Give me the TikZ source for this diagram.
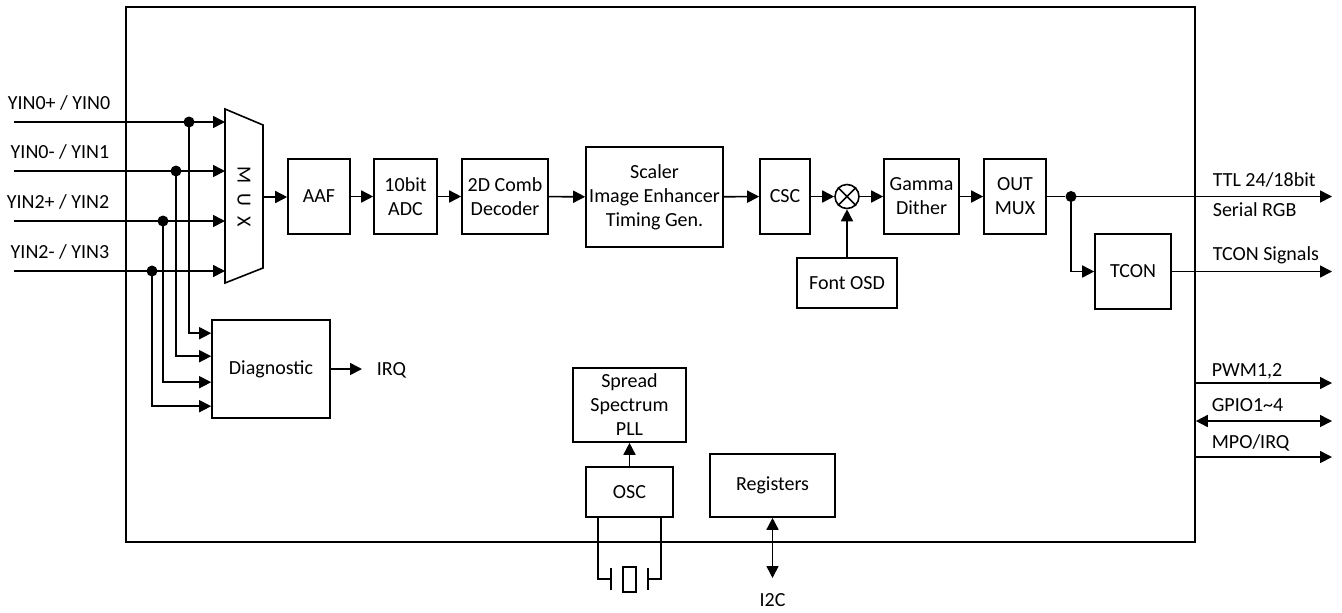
\documentclass[tikz,border=0pt]{standalone}
\usepackage{fontspec}
\setmainfont{Carlito}
\usetikzlibrary{arrows.meta,positioning}

\begin{document}
\begin{tikzpicture}[
    x=0.5pt, y=-0.5pt,
    line width=0.8pt,
    >={Triangle[length=6pt,width=6pt]},
    bloc/.style = {draw, align=center, inner sep=1pt},
    sig/.style = {inner sep=0pt},
    dot/.style = {circle, fill, inner sep=0pt, minimum size=5.5pt}
]
    \useasboundingbox (0,0) rectangle (1342,612);

    % --- Boitier ---
    \node[draw, minimum width=534.5pt, minimum height=267.5pt] (chip) at (660.5,274.5) {};

    % --- Entrees et MUX ---
    \coordinate (m1) at (225,109);
    \coordinate (m2) at (263,125);
    \coordinate (m3) at (263,268);
    \coordinate (m4) at (225,283);
    \draw (m1) -- (m2) -- (m3) -- (m4) -- cycle;
    \node[sig, rotate=-90] (mux) at (244,197) {M\hspace{5pt}U\hspace{5pt}X};
    \coordinate (muxout) at (263,197);

    \coordinate (in0) at (14,122);
    \coordinate (in1) at (14,171);
    \coordinate (in2) at (14,221);
    \coordinate (in3) at (14,271);
    \node[sig] (l0) at (59,103) {YIN0+ / YIN0};
    \node[sig] (l1) at (60,152) {YIN0- / YIN1};
    \node[sig] (l2) at (58,202) {YIN2+ / YIN2};
    \node[sig] (l3) at (60,252) {YIN2- / YIN3};
    \draw[->] (in0) -- (in0 -| m1);
    \draw[->] (in1) -- (in1 -| m1);
    \draw[->] (in2) -- (in2 -| m1);
    \draw[->] (in3) -- (in3 -| m1);
    \node[dot] (d0) at (189,122) {};
    \node[dot] (d1) at (176,171) {};
    \node[dot] (d2) at (163,221) {};
    \node[dot] (d3) at (152,271) {};

    % --- Diagnostic ---
    \node[bloc, minimum width=59pt, minimum height=49pt] (diag) at (271,369) {Diagnostic};
    \draw[->] (d0.center) |- ([yshift=-7pt]diag.north west);
    \draw[->] (d1.center) |- ([yshift=-18.5pt]diag.north west);
    \draw[->] (d2.center) |- ([yshift=-31.5pt]diag.north west);
    \draw[->] (d3.center) |- ([yshift=-43.5pt]diag.north west);
    \node[sig, anchor=west] (irq) at (376,370) {IRQ};
    \coordinate (irqend) at (362,369);
    \draw[->] (diag.east |- irqend) -- (irqend);

    % --- Chaine video ---
    \node[bloc, minimum width=31pt, minimum height=37.5pt] (aaf) at (319,196.5) {AAF};
    \node[bloc, minimum width=31.5pt, minimum height=37.5pt] (adc) at (405.5,196.5) {10bit\\ADC};
    \node[bloc, minimum width=43pt, minimum height=37.5pt] (dec) at (505,196.5) {2D Comb\\Decoder};
    \node[bloc, minimum width=68.5pt, minimum height=50pt] (scal) at (654.5,197) {Scaler\\Image Enhancer\\Timing Gen.};
    \node[bloc, minimum width=25pt, minimum height=37.5pt] (csc) at (785,196.5) {CSC};
    \node[draw, circle, inner sep=0pt, minimum size=12pt] (mix) at (847,196.5) {};
    \draw (mix.north west) -- (mix.south east) (mix.north east) -- (mix.south west);
    \node[bloc, minimum width=37.5pt, minimum height=37.5pt] (gam) at (921.5,196.5) {Gamma\\Dither};
    \node[bloc, minimum width=31pt, minimum height=37.5pt] (omux) at (1015,196.5) {OUT\\MUX};
    \node[bloc, minimum width=50pt, minimum height=25pt] (osd) at (847,283) {Font OSD};

    \draw[->] (muxout) -- (muxout -| aaf.west);
    \draw[->] (aaf) -- (adc);
    \draw[->] (adc) -- (dec);
    \draw[->] (dec) -- (scal);
    \draw[->] (scal) -- (csc);
    \draw[->] (csc) -- (mix);
    \draw[->] (mix) -- (gam);
    \draw[->] (osd) -- (mix);
    \draw[->] (gam) -- (omux);

    % --- Sorties ---
    \node[dot] (d4) at (1071,196.5) {};
    \node[bloc, minimum width=38pt, minimum height=37.5pt] (tcon) at (1133,271.5) {TCON};
    \coordinate (ttl) at (1332,196.5);
    \coordinate (tsig) at (1332,271.5);
    \draw (omux) -- (d4);
    \draw[->] (d4.center) -- (ttl);
    \draw[->] (d4.center) |- (tcon);
    \draw[->] (tcon) -- (tsig);
    \node[sig, anchor=west] (lttl) at (1212,180) {TTL 24/18bit};
    \node[sig, anchor=west] (lrgb) at (1212,210) {Serial RGB};
    \node[sig, anchor=west] (ltcon) at (1212,255) {TCON Signals};

    \coordinate (pwm) at (1332,383);
    \coordinate (gpio) at (1332,421);
    \coordinate (mpo) at (1332,457);
    \draw[->] (chip.east |- pwm) -- (pwm);
    \draw[<->] (chip.east |- gpio) -- (gpio);
    \draw[->] (chip.east |- mpo) -- (mpo);
    \node[sig, anchor=west] (lpwm) at (1211,371) {PWM1,2};
    \node[sig, anchor=west] (lgpio) at (1211,405) {GPIO1\textasciitilde 4};
    \node[sig, anchor=west] (lmpo) at (1211,443) {MPO/IRQ};

    % --- Horloge et registres ---
    \node[bloc, minimum width=56.5pt, minimum height=37pt] (pll) at (629.5,405) {Spread\\Spectrum\\PLL};
    \node[bloc, minimum width=43.5pt, minimum height=25pt] (osc) at (629.5,492) {OSC};
    \draw[->] (osc) -- (pll);
    \node[draw, inner sep=0pt, minimum width=6.5pt, minimum height=12.5pt] (xtal) at (629.5,579.5) {};
    \coordinate (pa) at (611,579);
    \coordinate (pb) at (648,579);
    \draw ([yshift=5.5pt]pa) -- ([yshift=-5.5pt]pa);
    \draw ([yshift=5.5pt]pb) -- ([yshift=-5.5pt]pb);
    \draw ([xshift=-15.75pt]osc.south) |- (pa);
    \draw ([xshift=15.75pt]osc.south) |- (pb);

    \node[bloc, minimum width=62.5pt, minimum height=31.5pt] (reg) at (772.5,485.5) {Registers};
    \coordinate (i2cend) at (772.5,578);
    \draw[<->] (reg) -- (i2cend);
    \node[sig] (i2c) at (772.5,600) {I2C};

\end{tikzpicture}
\end{document}
